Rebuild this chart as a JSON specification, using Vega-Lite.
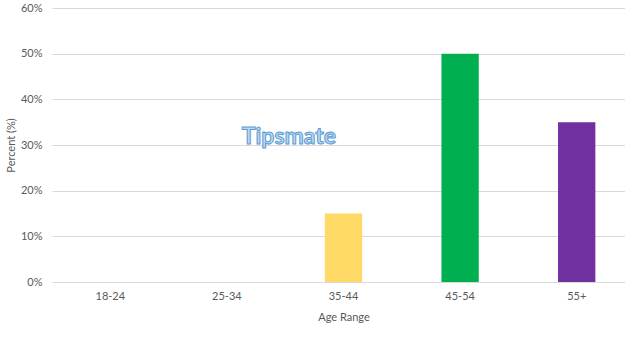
{
  "$schema": "https://vega.github.io/schema/vega-lite/v6.json",
  "autosize": "none",
  "width": 583,
  "height": 274,
  "padding": {"left": 52, "top": 8, "right": 0, "bottom": 56},
  "background": "white",
  "config": {
    "view": {"stroke": null},
    "font": "Lato"
  },
  "datasets": {
    "ages": [
      {"age": "18-24", "pct": 0, "color": "#FFD966"},
      {"age": "25-34", "pct": 0, "color": "#FFD966"},
      {"age": "35-44", "pct": 0.15, "color": "#FFD966"},
      {"age": "45-54", "pct": 0.50, "color": "#00B050"},
      {"age": "55+", "pct": 0.35, "color": "#7030A0"}
    ],
    "mark": [
      {"age": "25-34", "pct": 0.317, "label": "Tipsmate"}
    ]
  },
  "encoding": {
    "x": {
      "field": "age",
      "type": "nominal",
      "sort": null,
      "scale": {"domain": ["18-24", "25-34", "35-44", "45-54", "55+"], "paddingInner": 0.68, "paddingOuter": 0.34},
      "axis": {
        "title": "Age  Range",
        "labelAngle": 0,
        "domain": false,
        "ticks": false,
        "grid": false,
        "labelColor": "#595959",
        "labelFontSize": 11,
        "labelPadding": 8,
        "titleColor": "#595959",
        "titleFontSize": 11,
        "titleFontWeight": "normal",
        "titlePadding": 10
      }
    },
    "y": {
      "field": "pct",
      "type": "quantitative",
      "scale": {"domain": [0, 0.6], "nice": false},
      "axis": {
        "title": "Percent (%)",
        "format": ".0%",
        "values": [0, 0.1, 0.2, 0.3, 0.4, 0.5, 0.6],
        "labelOverlap": false,
        "domain": false,
        "ticks": false,
        "gridColor": "#D9D9D9",
        "gridWidth": 1,
        "labelColor": "#595959",
        "labelFontSize": 11,
        "labelPadding": 10,
        "titleColor": "#595959",
        "titleFontSize": 11,
        "titleFontWeight": "normal",
        "titlePadding": 4
      }
    }
  },
  "layer": [
    {
      "data": {"name": "ages"},
      "mark": {"type": "bar"},
      "encoding": {
        "color": {"field": "color", "type": "nominal", "scale": null, "legend": null}
      }
    },
    {
      "data": {"name": "mark"},
      "mark": {
        "type": "text",
        "dx": 62,
        "fontSize": 23,
        "fontWeight": "bold",
        "fill": "#BDD7EE",
        "stroke": "#5B9BD5",
        "strokeWidth": 1,
        "font": "Lato"
      },
      "encoding": {
        "text": {"field": "label", "type": "nominal"}
      }
    }
  ]
}
